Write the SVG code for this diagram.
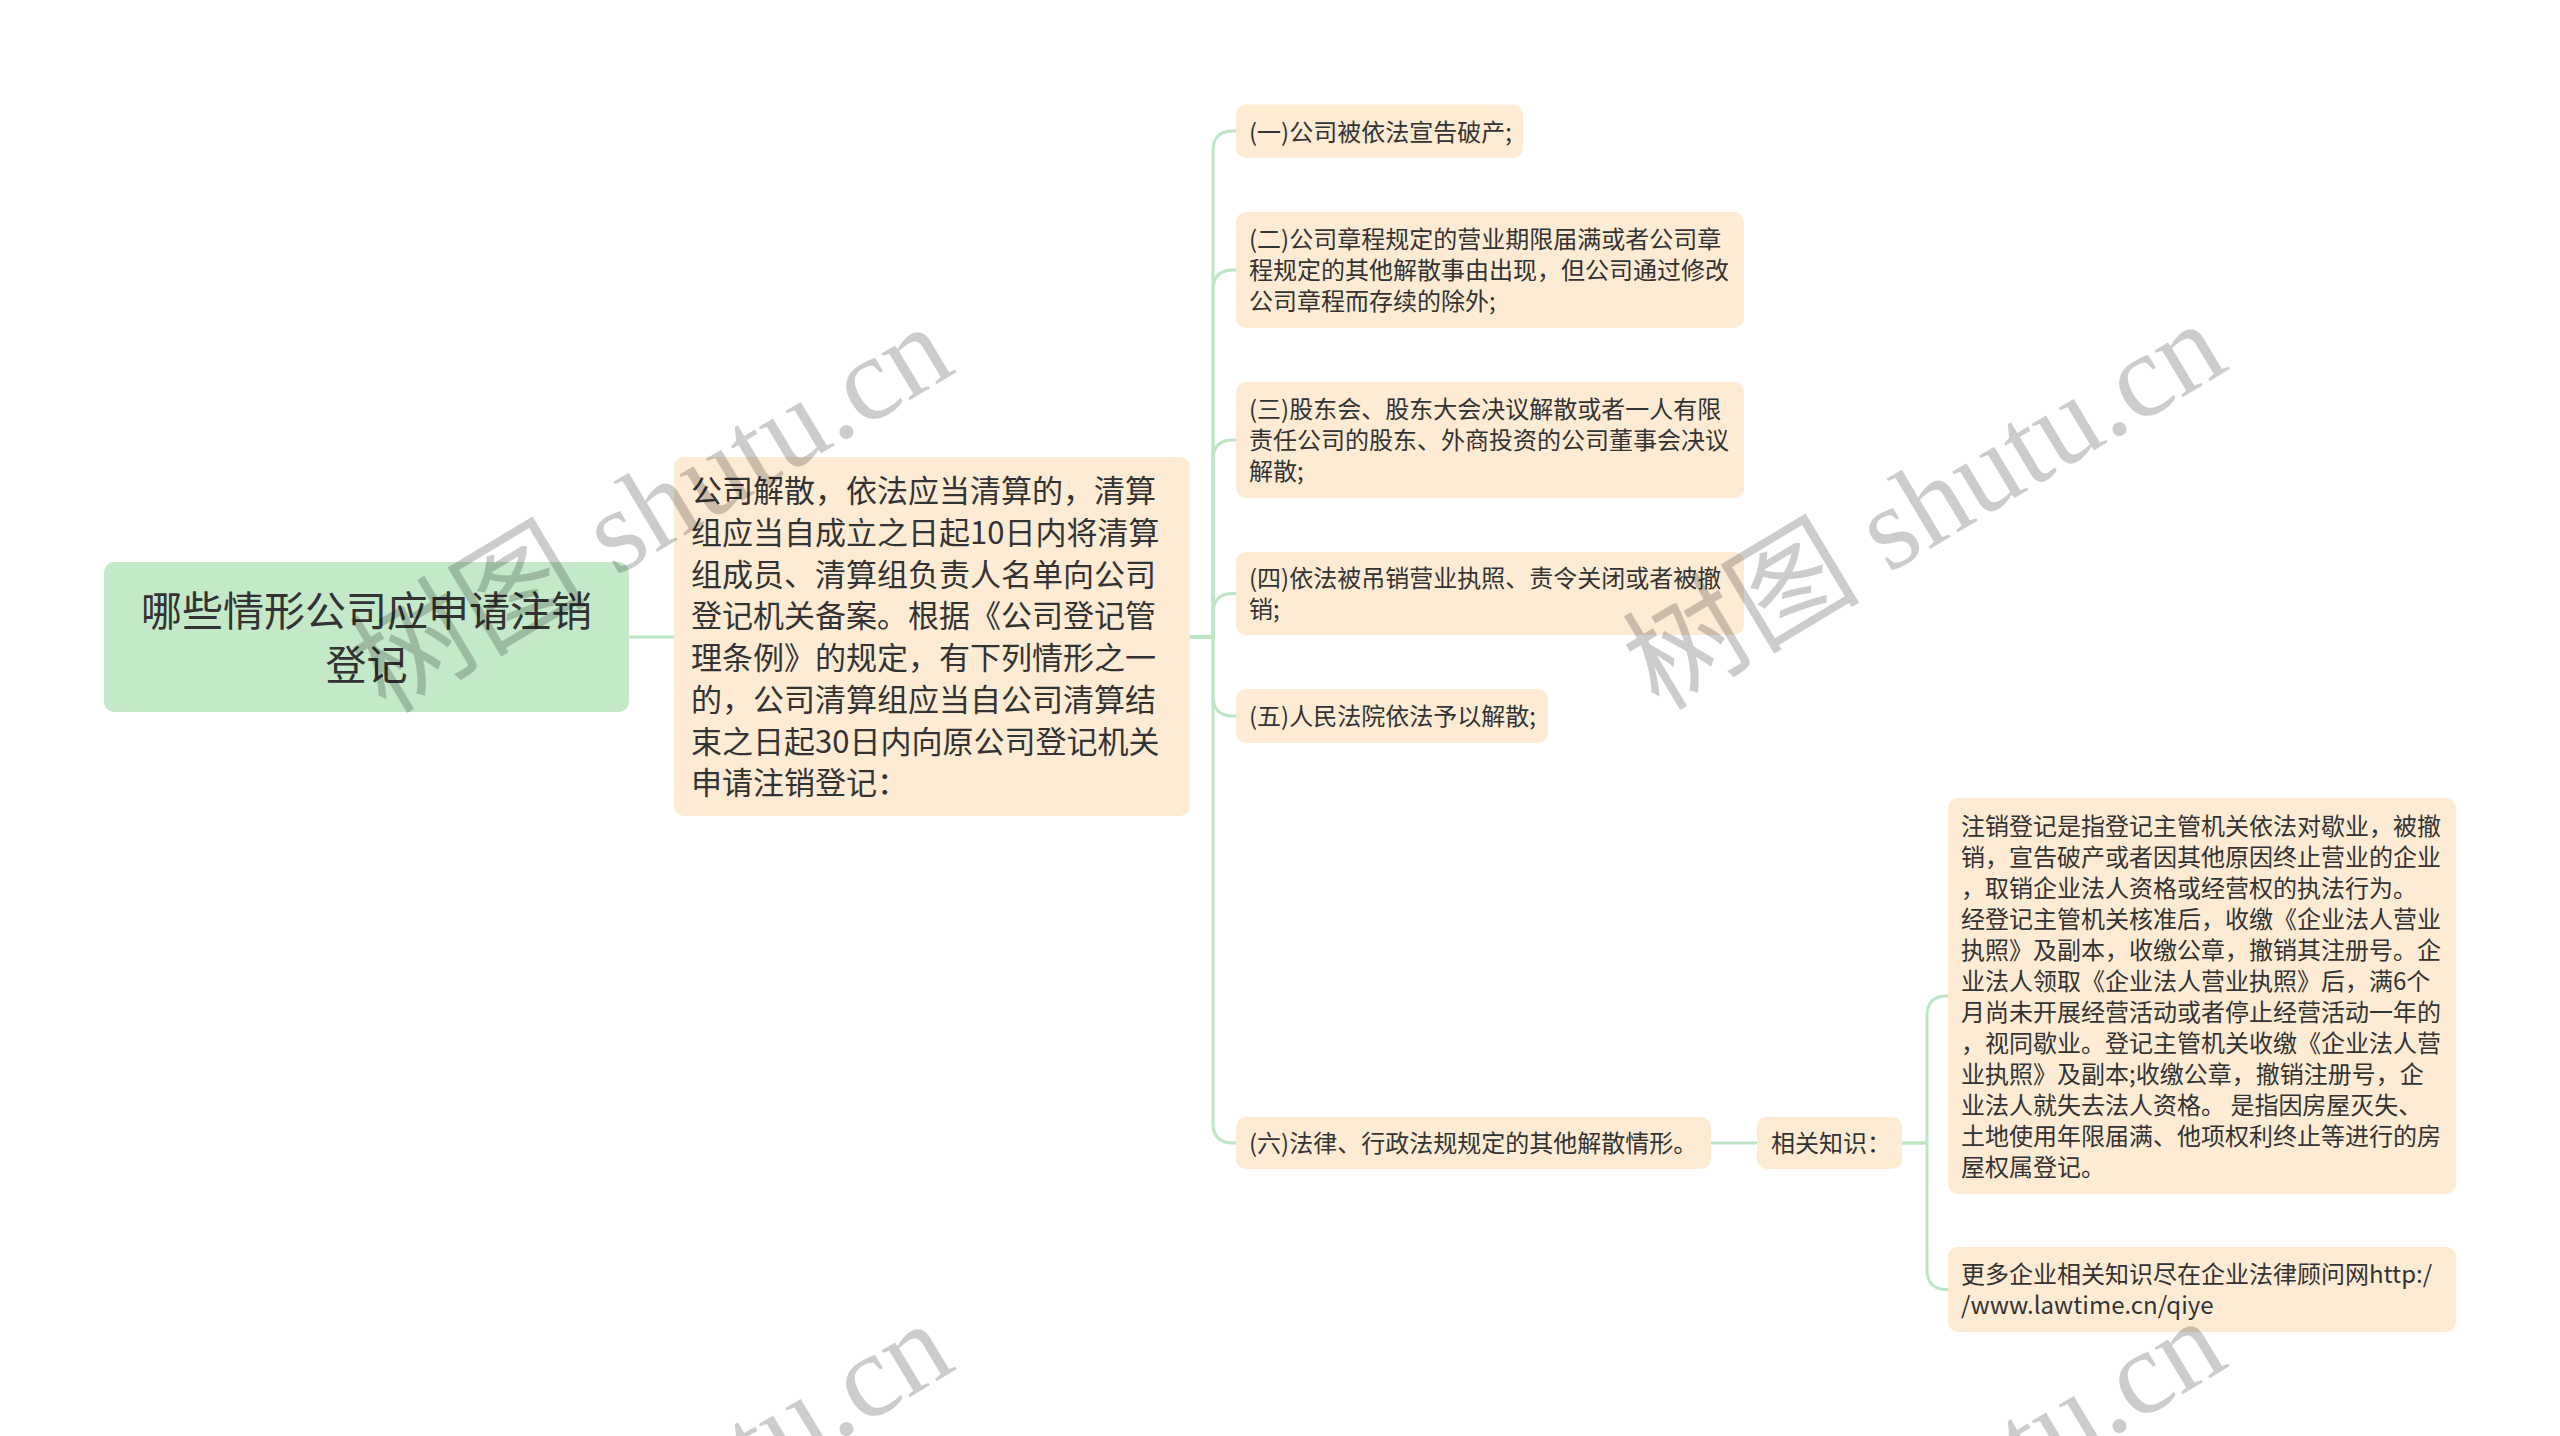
<svg xmlns="http://www.w3.org/2000/svg" width="2560" height="1436" viewBox="0 0 2560 1436">
<style>
.bg{fill:#ffffff}
.root rect{fill:#c4e9c9}
.node rect{fill:#fdebd4}
text{font-family:"Noto Sans CJK SC","Noto Sans",sans-serif;fill:#333333}
.rt{font-size:41px}
.mt{font-size:31px}
.it{font-size:24px}
.edge{fill:none;stroke:#bfe5c7;stroke-width:3;stroke-linecap:round}
.wm{font-family:"Liberation Serif","Noto Sans CJK SC",serif;font-size:119px;fill:#000000;fill-opacity:0.2}
</style>
<rect class="bg" x="0" y="0" width="2560" height="1436"/>
<g id="connectors">
<path class="edge" d="M629 637 H674"/>
<path class="edge" d="M1190 637 H1213 V151 Q1213 131 1233 131 H1236"/>
<path class="edge" d="M1190 637 H1213 V290 Q1213 270 1233 270 H1236"/>
<path class="edge" d="M1190 637 H1213 V460 Q1213 440 1233 440 H1236"/>
<path class="edge" d="M1190 637 H1213 V613.5 Q1213 593.5 1233 593.5 H1236"/>
<path class="edge" d="M1190 637 H1213 V696 Q1213 716 1233 716 H1236"/>
<path class="edge" d="M1190 637 H1213 V1123 Q1213 1143 1233 1143 H1236"/>
<path class="edge" d="M1711 1143 H1757"/>
<path class="edge" d="M1902 1143 H1927 V1016 Q1927 996 1947 996 H1948"/>
<path class="edge" d="M1902 1143 H1927 V1269.5 Q1927 1289.5 1947 1289.5 H1948"/>
</g>
<g id="root" class="root">
<rect x="104" y="562" width="525" height="150" rx="10"/>
<text class="rt" text-anchor="middle"><tspan x="366.5" y="626">哪些情形公司应申请注销</tspan><tspan x="366.5" y="680">登记</tspan></text>
</g>
<g id="main" class="node">
<rect x="674" y="457" width="516" height="359" rx="10"/>
<text class="mt"><tspan x="691" y="502">公司解散，依法应当清算的，清算</tspan><tspan x="691" y="543.8">组应当自成立之日起10日内将清算</tspan><tspan x="691" y="585.5">组成员、清算组负责人名单向公司</tspan><tspan x="691" y="627.3">登记机关备案。根据《公司登记管</tspan><tspan x="691" y="669">理条例》的规定，有下列情形之一</tspan><tspan x="691" y="710.8">的，公司清算组应当自公司清算结</tspan><tspan x="691" y="752.5">束之日起30日内向原公司登记机关</tspan><tspan x="691" y="794.3">申请注销登记：</tspan></text>
</g>
<g id="item1" class="node">
<rect x="1236" y="104.5" width="287" height="53.5" rx="10"/>
<text class="it"><tspan x="1249" y="140.5">(一)公司被依法宣告破产;</tspan></text>
</g>
<g id="item2" class="node">
<rect x="1236" y="212" width="508" height="116" rx="10"/>
<text class="it"><tspan x="1249" y="248">(二)公司章程规定的营业期限届满或者公司章</tspan><tspan x="1249" y="279">程规定的其他解散事由出现，但公司通过修改</tspan><tspan x="1249" y="310">公司章程而存续的除外;</tspan></text>
</g>
<g id="item3" class="node">
<rect x="1236" y="382" width="508" height="116" rx="10"/>
<text class="it"><tspan x="1249" y="418">(三)股东会、股东大会决议解散或者一人有限</tspan><tspan x="1249" y="449">责任公司的股东、外商投资的公司董事会决议</tspan><tspan x="1249" y="480">解散;</tspan></text>
</g>
<g id="item4" class="node">
<rect x="1236" y="552" width="508" height="83" rx="10"/>
<text class="it"><tspan x="1249" y="587">(四)依法被吊销营业执照、责令关闭或者被撤</tspan><tspan x="1249" y="618">销;</tspan></text>
</g>
<g id="item5" class="node">
<rect x="1236" y="689" width="312" height="54" rx="10"/>
<text class="it"><tspan x="1249" y="725">(五)人民法院依法予以解散;</tspan></text>
</g>
<g id="item6" class="node">
<rect x="1236" y="1117" width="475" height="52" rx="10"/>
<text class="it"><tspan x="1249" y="1152">(六)法律、行政法规规定的其他解散情形。</tspan></text>
</g>
<g id="related" class="node">
<rect x="1757" y="1117" width="145" height="52" rx="10"/>
<text class="it"><tspan x="1771" y="1152">相关知识：</tspan></text>
</g>
<g id="note1" class="node">
<rect x="1948" y="798" width="508" height="396" rx="10"/>
<text class="it"><tspan x="1961" y="834.5">注销登记是指登记主管机关依法对歇业，被撤</tspan><tspan x="1961" y="865.5">销，宣告破产或者因其他原因终止营业的企业</tspan><tspan x="1961" y="896.5">，取销企业法人资格或经营权的执法行为。</tspan><tspan x="1961" y="927.5">经登记主管机关核准后，收缴《企业法人营业</tspan><tspan x="1961" y="958.5">执照》及副本，收缴公章，撤销其注册号。企</tspan><tspan x="1961" y="989.5">业法人领取《企业法人营业执照》后，满6个</tspan><tspan x="1961" y="1020.5">月尚未开展经营活动或者停止经营活动一年的</tspan><tspan x="1961" y="1051.5">，视同歇业。登记主管机关收缴《企业法人营</tspan><tspan x="1961" y="1082.5">业执照》及副本;收缴公章，撤销注册号，企</tspan><tspan x="1961" y="1113.5">业法人就失去法人资格。 是指因房屋灭失、</tspan><tspan x="1961" y="1144.5">土地使用年限届满、他项权利终止等进行的房</tspan><tspan x="1961" y="1175.5">屋权属登记。</tspan></text>
</g>
<g id="note2" class="node">
<rect x="1948" y="1247" width="508" height="85" rx="10"/>
<text class="it"><tspan x="1961" y="1283">更多企业相关知识尽在企业法律顾问网http:/</tspan><tspan x="1961" y="1314">/www.lawtime.cn/qiye</tspan></text>
</g>
<g id="watermarks">
<text class="wm" text-anchor="middle" transform="translate(672 543) rotate(-31)">树图 shutu.cn</text>
<text class="wm" text-anchor="middle" transform="translate(1945 540) rotate(-31)">树图 shutu.cn</text>
<text class="wm" text-anchor="middle" transform="translate(672 1540) rotate(-31)">树图 shutu.cn</text>
<text class="wm" text-anchor="middle" transform="translate(1945 1537) rotate(-31)">树图 shutu.cn</text>
</g>
</svg>
